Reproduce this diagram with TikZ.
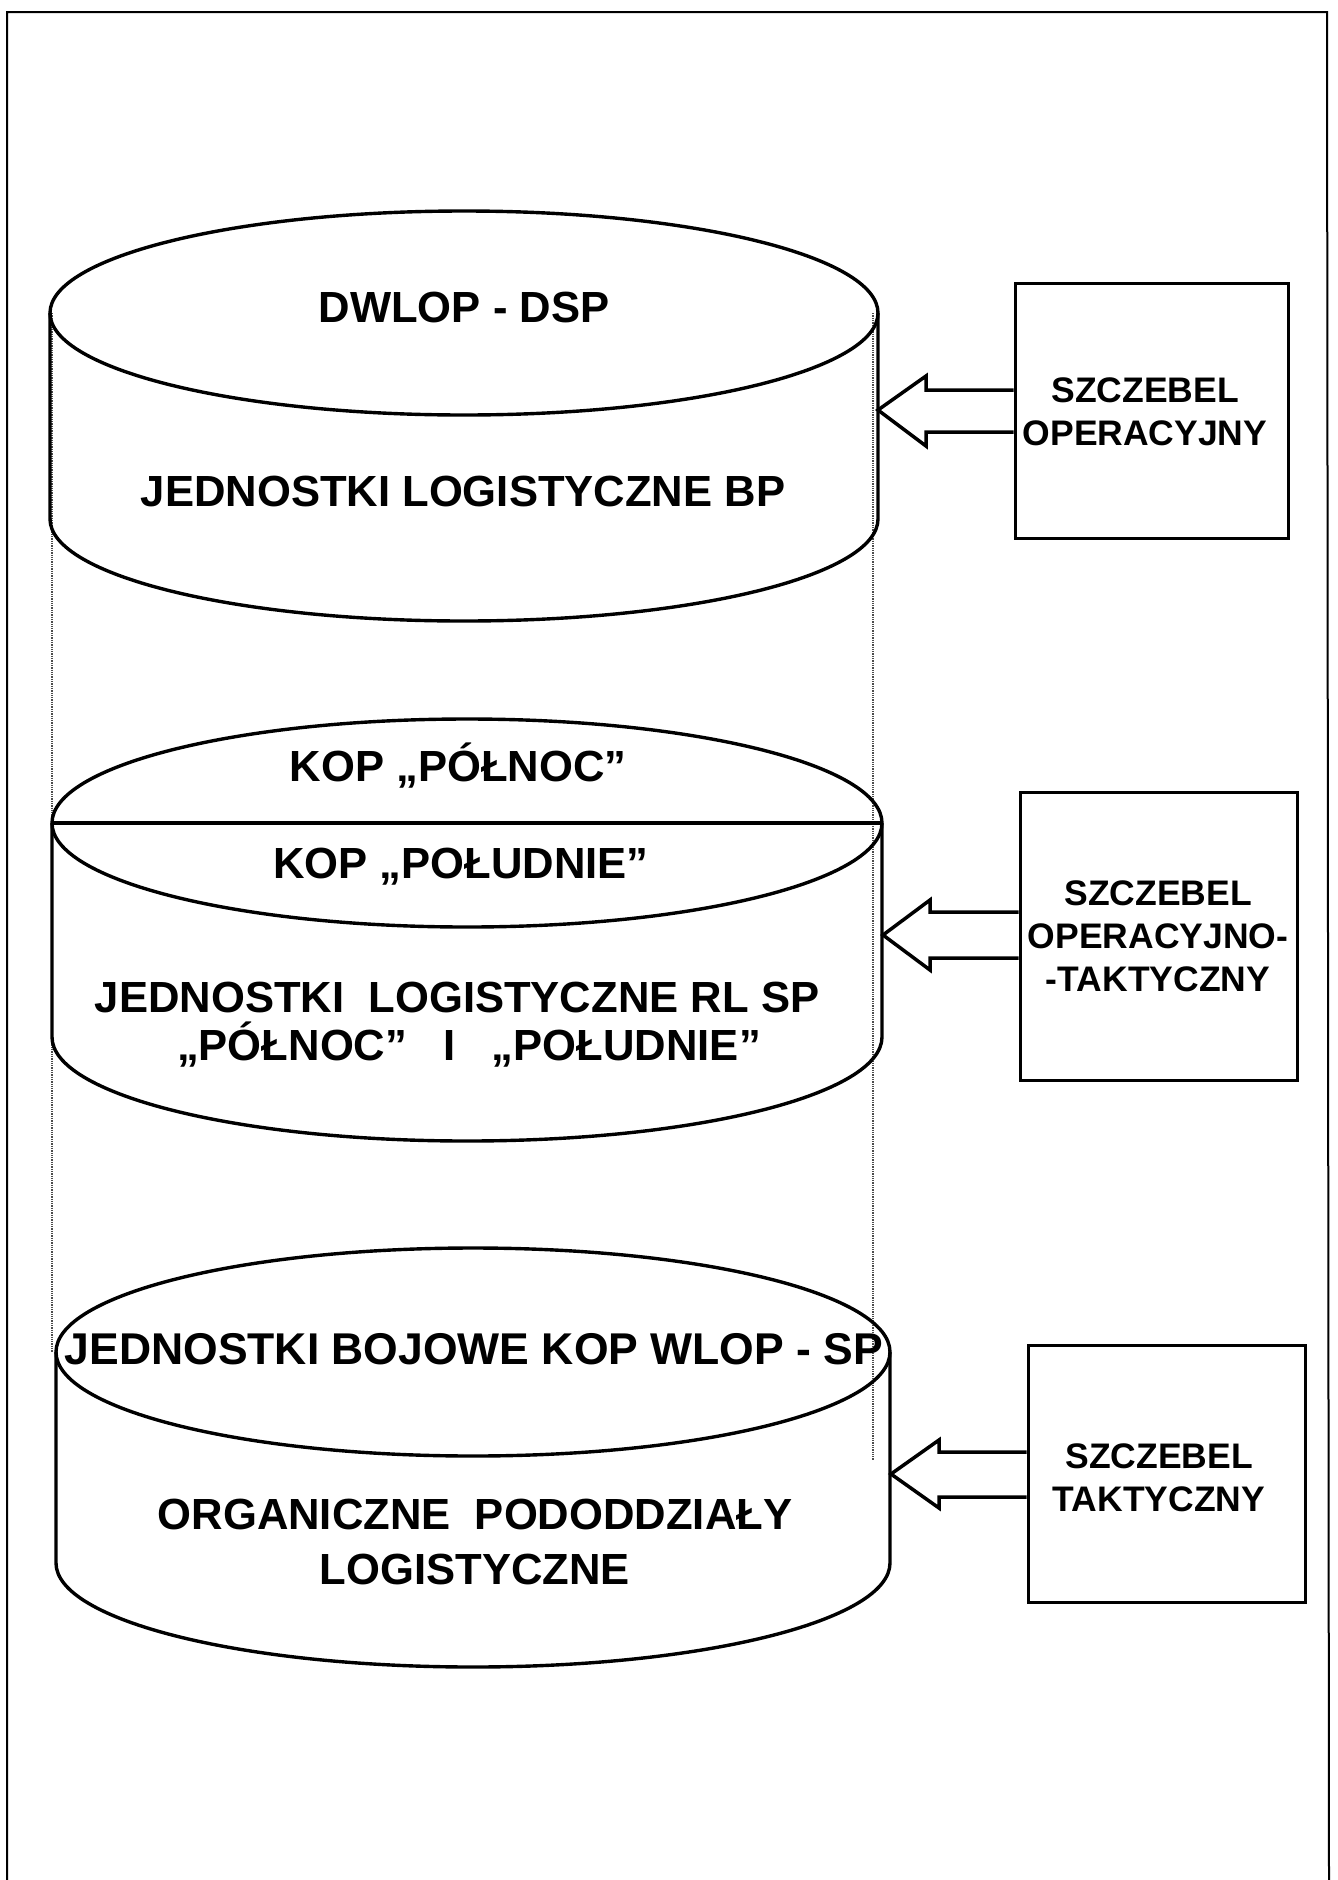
\documentclass[tikz,border=0pt]{standalone}
\usepackage{fontspec}
\setmainfont{Liberation Sans}
\begin{document}
\begin{tikzpicture}[x=1pt,y=-1pt,
  cyl/.style={line width=3.4pt},
  pageframe/.style={line width=2pt},
  guide/.style={densely dotted, line width=1.3pt, black!70},
  bigtxt/.style={font=\fontsize{43.6}{50}\selectfont\bfseries, anchor=base, inner sep=0pt},
  boxtxt/.style={font=\fontsize{35.5}{43}\selectfont\bfseries, align=center, inner sep=0pt},
  lvlbox/.style={draw, line width=3pt, inner sep=0pt},
  blkarrow/.style={line width=3.5pt, line join=miter}]
\useasboundingbox (0,0) rectangle (1338,1880);
% page frame
\draw[pageframe] (7,1880) -- (7,12) -- (1327,12) -- (1329,1880);
% dotted guide lines
\draw[guide] (52,313) -- (52,1352);
\draw[guide] (873,313) -- (873,1460);
% cylinder 1
\draw[cyl] (464,313) ellipse [x radius=414, y radius=102];
\draw[cyl] (50,313) -- (50,519) arc[start angle=180, end angle=0, x radius=414, y radius=102] -- (878,313);
% cylinder 2
\draw[cyl] (467,823) ellipse [x radius=415, y radius=104];
\draw[cyl] (52,823) -- (882,823);
\draw[cyl] (52,823) -- (52,1037) arc[start angle=180, end angle=0, x radius=415, y radius=104] -- (882,823);
% cylinder 3
\draw[cyl] (473,1352) ellipse [x radius=417, y radius=104];
\draw[cyl] (56,1352) -- (56,1563) arc[start angle=180, end angle=0, x radius=417, y radius=104] -- (890,1352);
% texts in cylinders
\node[bigtxt] (c1a) at (464,322) {DWLOP - DSP};
\node[bigtxt] (c1b) at (463,506) {JEDNOSTKI LOGISTYCZNE BP};
\node[bigtxt] (c2a) at (458,781) {KOP „PÓŁNOC"};
\node[bigtxt] (c2b) at (461,878) {KOP „POŁUDNIE”};
\node[bigtxt] (c2c) at (457,1012) {JEDNOSTKI\ \ LOGISTYCZNE RL SP};
\node[bigtxt] (c2d) at (469,1060) {„PÓŁNOC”\ \ \ I\ \ \ „POŁUDNIE”};
\node[bigtxt, font=\fontsize{44.5}{50}\selectfont\bfseries] (c3a) at (474,1364) {JEDNOSTKI BOJOWE KOP WLOP - SP};
\node[bigtxt] (c3b) at (475,1529) {ORGANICZNE\ \ PODODDZIAŁY};
\node[bigtxt] (c3c) at (475,1584) {LOGISTYCZNE};
% level boxes
\node[lvlbox, minimum width=273pt, minimum height=255pt] (b1) at (1151.5,410.5) {};
\node[lvlbox, minimum width=277pt, minimum height=288pt] (b2) at (1158.5,936) {};
\node[lvlbox, minimum width=277pt, minimum height=257pt] (b3) at (1166.5,1473.5) {};
\node[boxtxt] (l1) at (1145,412) {SZCZEBEL\\OPERACYJNY};
\node[boxtxt] (l2) at (1158,936) {SZCZEBEL\\OPERACYJNO-\\-TAKTYCZNY};
\node[boxtxt] (l3) at (1159,1478) {SZCZEBEL\\TAKTYCZNY};
% arrow tips on cylinder sides
\coordinate (t1) at (878,410);
\coordinate (t2) at (883,935);
\coordinate (t3) at (891,1474);
% arrow 1
\coordinate (a1u) at (926,390); \coordinate (a1h) at (926,376);
\coordinate (a1d) at (926,432); \coordinate (a1k) at (926,446);
\draw[blkarrow] (b1.west |- a1u) -- (a1u) -- (a1h) -- (t1) -- (a1k) -- (a1d) -- (b1.west |- a1d);
% arrow 2
\coordinate (a2u) at (930,912); \coordinate (a2h) at (930,900);
\coordinate (a2d) at (930,958); \coordinate (a2k) at (930,970);
\draw[blkarrow] (b2.west |- a2u) -- (a2u) -- (a2h) -- (t2) -- (a2k) -- (a2d) -- (b2.west |- a2d);
% arrow 3
\coordinate (a3u) at (939,1452); \coordinate (a3h) at (939,1440);
\coordinate (a3d) at (939,1497); \coordinate (a3k) at (939,1508);
\draw[blkarrow] (b3.west |- a3u) -- (a3u) -- (a3h) -- (t3) -- (a3k) -- (a3d) -- (b3.west |- a3d);
\end{tikzpicture}
\end{document}
